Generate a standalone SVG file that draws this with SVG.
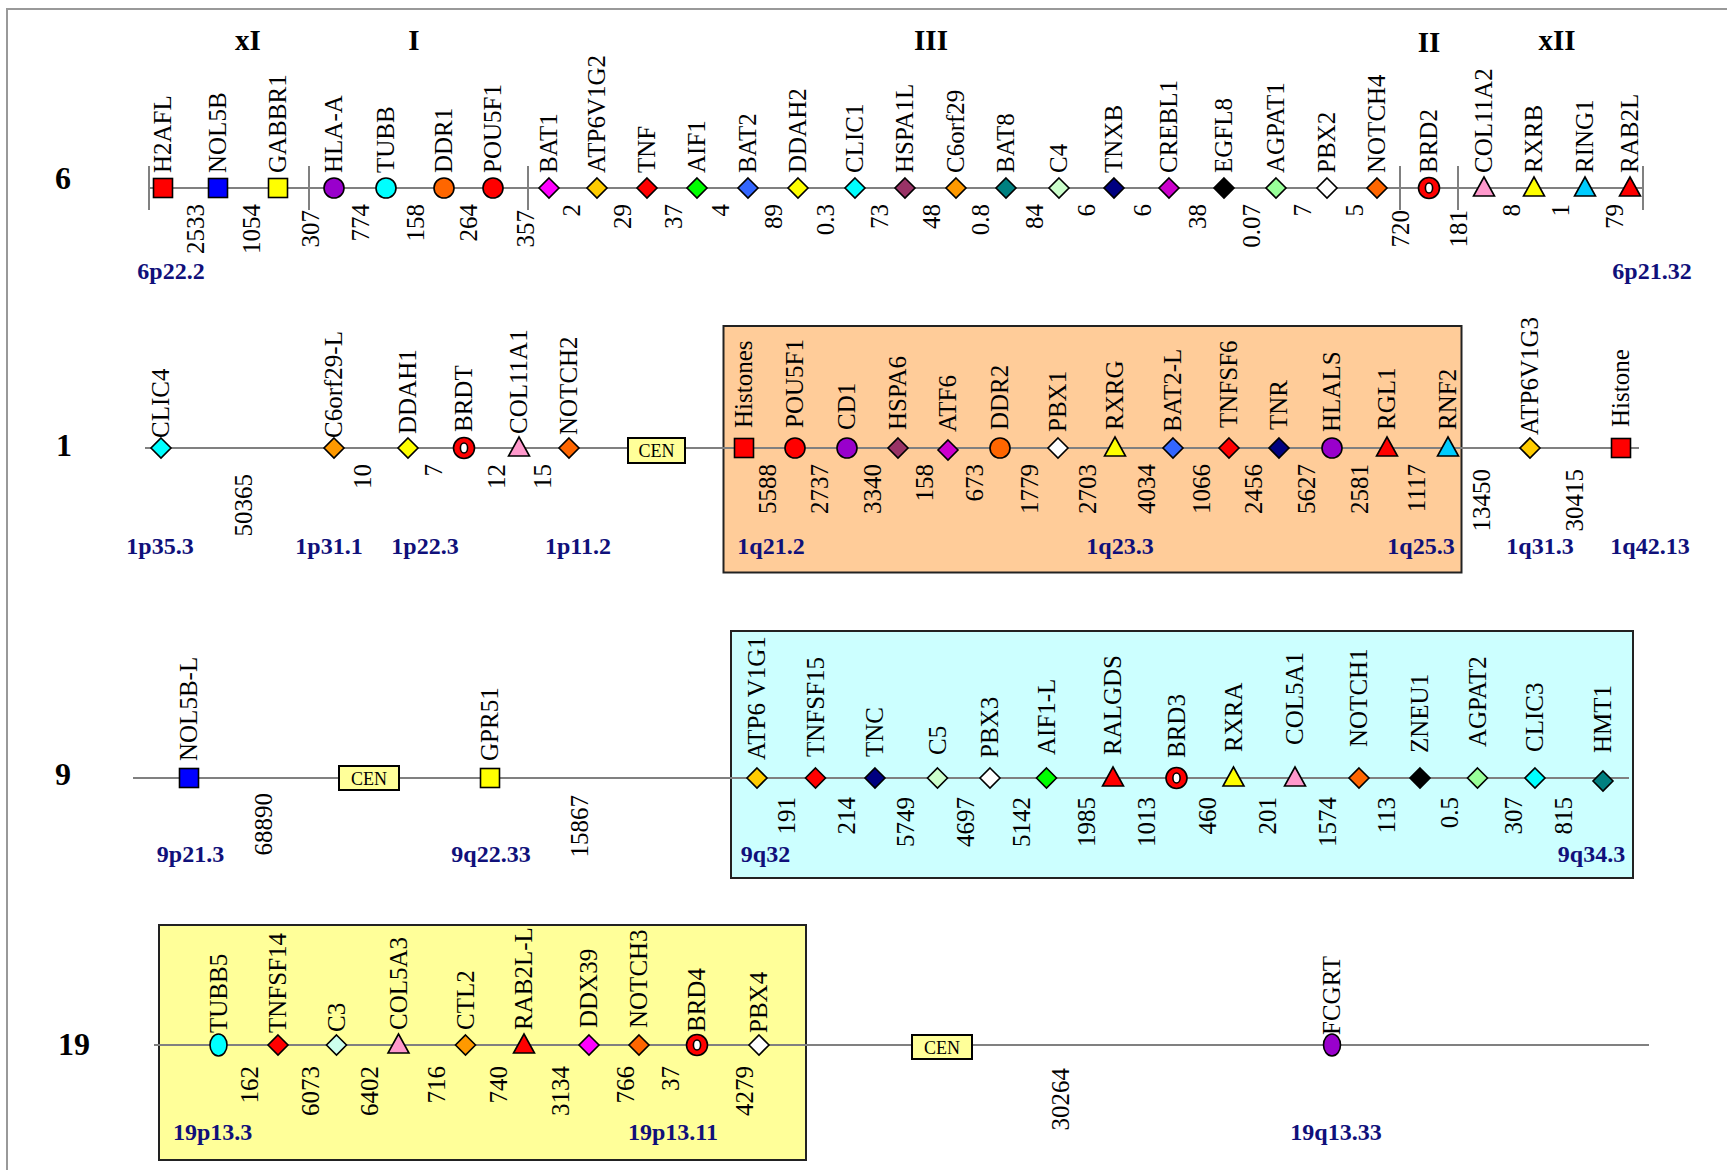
<svg xmlns="http://www.w3.org/2000/svg" width="1727" height="1170" viewBox="0 0 1727 1170">
<style>
text{font-family:"Liberation Serif","Times New Roman",serif;fill:#000}
.lb{font-size:25px}
.nm{font-size:25px;text-anchor:end}
.bd{font-size:24px;font-weight:bold;fill:#10107a;text-anchor:middle}
.ch{font-size:32px;font-weight:bold;text-anchor:middle}
.sc{font-size:29px;font-weight:bold;text-anchor:middle}
.cen{font-size:18px;text-anchor:middle}
.ln{stroke:#808080;stroke-width:2;fill:none}
.s{stroke:#000;stroke-width:1.6}
.bx{stroke:#222;stroke-width:2}
.cb{fill:#ffff99;stroke:#000;stroke-width:2}
</style>
<defs>
<rect id="sq" x="-9.5" y="-9.5" width="19" height="19"/>
<circle id="ci" r="10"/>
<ellipse id="el" rx="8.5" ry="11"/>
<path id="di" d="M0,-10 L10,0 L0,10 L-10,0Z"/>
<path id="tr" d="M0,-11 L10.5,8 L-10.5,8Z"/>
<g id="ring"><circle r="10.5" fill="#ff0000" stroke="#000" stroke-width="1.6"/><ellipse rx="3.6" ry="5" fill="#fff" stroke="#000" stroke-width="1.6"/></g>
</defs>
<rect width="1727" height="1170" fill="#fff"/>
<path d="M7,1170 V9 H1727" stroke="#999" stroke-width="2" fill="none"/>

<g id="regions">
<rect id="box-1q" class="bx" x="723.5" y="326" width="738" height="246.5" fill="#ffcc99"/>
<rect id="box-9q" class="bx" x="731" y="631" width="902" height="247" fill="#ccffff"/>
<rect id="box-19p" class="bx" x="159" y="925" width="647" height="235" fill="#ffff99"/>
</g>

<g id="connectors">
<line class="ln" x1="150" y1="188" x2="1643" y2="188"/>
<path class="ln" d="M149,166V210 M309,166V210 M528,166V210 M1400,166V210 M1458,166V210 M1643,166V210"/>
<line class="ln" x1="145" y1="448" x2="1639" y2="448"/>
<line class="ln" x1="133" y1="778" x2="1629" y2="778"/>
<line class="ln" x1="154" y1="1045" x2="1649" y2="1045"/>
</g>

<g id="headers">
<text class="sc" x="248" y="50">xI</text>
<text class="sc" x="414" y="50">I</text>
<text class="sc" x="931" y="50">III</text>
<text class="sc" x="1429" y="52">II</text>
<text class="sc" x="1557" y="50">xII</text>
<text class="ch" x="63" y="189">6</text>
<text class="ch" x="64" y="456">1</text>
<text class="ch" x="63" y="785">9</text>
<text class="ch" x="74" y="1055">19</text>
</g>

<g id="centromeres">
<g id="cen-1"><rect class="cb" x="628" y="438" width="57" height="25"/><text class="cen" x="656.5" y="457">CEN</text></g>
<g id="cen-9"><rect class="cb" x="339" y="766" width="60" height="24"/><text class="cen" x="369" y="784.5">CEN</text></g>
<g id="cen-19"><rect class="cb" x="912" y="1035" width="60" height="24"/><text class="cen" x="942" y="1053.5">CEN</text></g>
</g>

<g id="chr6" class="s">
<g id="n6-H2AFL"><use href="#sq" x="163" y="188" fill="#ff0000"/><text class="lb" x="171" y="173" transform="rotate(-90 171 173)" stroke="none">H2AFL</text></g>
<g id="n6-NOL5B"><use href="#sq" x="218" y="188" fill="#0000ff"/><text class="lb" x="226" y="173" transform="rotate(-90 226 173)" stroke="none">NOL5B</text></g>
<g id="n6-GABBR1"><use href="#sq" x="278" y="188" fill="#ffff00"/><text class="lb" x="286" y="173" transform="rotate(-90 286 173)" stroke="none">GABBR1</text></g>
<g id="n6-HLA-A"><use href="#ci" x="334" y="188" fill="#9900cc"/><text class="lb" x="342" y="173" transform="rotate(-90 342 173)" stroke="none">HLA-A</text></g>
<g id="n6-TUBB"><use href="#ci" x="386" y="188" fill="#00ffff"/><text class="lb" x="394" y="173" transform="rotate(-90 394 173)" stroke="none">TUBB</text></g>
<g id="n6-DDR1"><use href="#ci" x="444" y="188" fill="#ff6600"/><text class="lb" x="452" y="173" transform="rotate(-90 452 173)" stroke="none">DDR1</text></g>
<g id="n6-POU5F1"><use href="#ci" x="493" y="188" fill="#ff0000"/><text class="lb" x="501" y="173" transform="rotate(-90 501 173)" stroke="none">POU5F1</text></g>
<g id="n6-BAT1"><use href="#di" x="549" y="188" fill="#ff00ff"/><text class="lb" x="557" y="173" transform="rotate(-90 557 173)" stroke="none">BAT1</text></g>
<g id="n6-ATP6V1G2"><use href="#di" x="597" y="188" fill="#ffcc00"/><text class="lb" x="605" y="173" transform="rotate(-90 605 173)" stroke="none">ATP6V1G2</text></g>
<g id="n6-TNF"><use href="#di" x="647" y="188" fill="#ff0000"/><text class="lb" x="655" y="173" transform="rotate(-90 655 173)" stroke="none">TNF</text></g>
<g id="n6-AIF1"><use href="#di" x="697" y="188" fill="#00ff00"/><text class="lb" x="705" y="173" transform="rotate(-90 705 173)" stroke="none">AIF1</text></g>
<g id="n6-BAT2"><use href="#di" x="748" y="188" fill="#3366ff"/><text class="lb" x="756" y="173" transform="rotate(-90 756 173)" stroke="none">BAT2</text></g>
<g id="n6-DDAH2"><use href="#di" x="798" y="188" fill="#ffff00"/><text class="lb" x="806" y="173" transform="rotate(-90 806 173)" stroke="none">DDAH2</text></g>
<g id="n6-CLIC1"><use href="#di" x="855" y="188" fill="#00ffff"/><text class="lb" x="863" y="173" transform="rotate(-90 863 173)" stroke="none">CLIC1</text></g>
<g id="n6-HSPA1L"><use href="#di" x="905" y="188" fill="#993366"/><text class="lb" x="913" y="173" transform="rotate(-90 913 173)" stroke="none">HSPA1L</text></g>
<g id="n6-C6orf29"><use href="#di" x="956" y="188" fill="#ff9900"/><text class="lb" x="964" y="173" transform="rotate(-90 964 173)" stroke="none">C6orf29</text></g>
<g id="n6-BAT8"><use href="#di" x="1006" y="188" fill="#008080"/><text class="lb" x="1014" y="173" transform="rotate(-90 1014 173)" stroke="none">BAT8</text></g>
<g id="n6-C4"><use href="#di" x="1059" y="188" fill="#ccffcc"/><text class="lb" x="1067" y="173" transform="rotate(-90 1067 173)" stroke="none">C4</text></g>
<g id="n6-TNXB"><use href="#di" x="1114" y="188" fill="#000080"/><text class="lb" x="1122" y="173" transform="rotate(-90 1122 173)" stroke="none">TNXB</text></g>
<g id="n6-CREBL1"><use href="#di" x="1169" y="188" fill="#cc00cc"/><text class="lb" x="1177" y="173" transform="rotate(-90 1177 173)" stroke="none">CREBL1</text></g>
<g id="n6-EGFL8"><use href="#di" x="1224" y="188" fill="#000000"/><text class="lb" x="1232" y="173" transform="rotate(-90 1232 173)" stroke="none">EGFL8</text></g>
<g id="n6-AGPAT1"><use href="#di" x="1276" y="188" fill="#99ff99"/><text class="lb" x="1284" y="173" transform="rotate(-90 1284 173)" stroke="none">AGPAT1</text></g>
<g id="n6-PBX2"><use href="#di" x="1327" y="188" fill="#ffffff"/><text class="lb" x="1335" y="173" transform="rotate(-90 1335 173)" stroke="none">PBX2</text></g>
<g id="n6-NOTCH4"><use href="#di" x="1377" y="188" fill="#ff6600"/><text class="lb" x="1385" y="173" transform="rotate(-90 1385 173)" stroke="none">NOTCH4</text></g>
<g id="n6-BRD2"><use href="#ring" x="1429" y="188"/><text class="lb" x="1437" y="173" transform="rotate(-90 1437 173)" stroke="none">BRD2</text></g>
<g id="n6-COL11A2"><use href="#tr" x="1484" y="188" fill="#ff99cc"/><text class="lb" x="1492" y="173" transform="rotate(-90 1492 173)" stroke="none">COL11A2</text></g>
<g id="n6-RXRB"><use href="#tr" x="1534" y="188" fill="#ffff00"/><text class="lb" x="1542" y="173" transform="rotate(-90 1542 173)" stroke="none">RXRB</text></g>
<g id="n6-RING1"><use href="#tr" x="1585" y="188" fill="#00ccff"/><text class="lb" x="1593" y="173" transform="rotate(-90 1593 173)" stroke="none">RING1</text></g>
<g id="n6-RAB2L"><use href="#tr" x="1630" y="188" fill="#ff0000"/><text class="lb" x="1638" y="173" transform="rotate(-90 1638 173)" stroke="none">RAB2L</text></g>
</g>

<g id="chr6-distances">
<text class="nm" x="204" y="204" transform="rotate(-90 204 204)">2533</text>
<text class="nm" x="260" y="204" transform="rotate(-90 260 204)">1054</text>
<text class="nm" x="319" y="210" transform="rotate(-90 319 210)">307</text>
<text class="nm" x="369" y="204" transform="rotate(-90 369 204)">774</text>
<text class="nm" x="424" y="204" transform="rotate(-90 424 204)">158</text>
<text class="nm" x="477" y="204" transform="rotate(-90 477 204)">264</text>
<text class="nm" x="534" y="210" transform="rotate(-90 534 210)">357</text>
<text class="nm" x="580" y="204" transform="rotate(-90 580 204)">2</text>
<text class="nm" x="631" y="204" transform="rotate(-90 631 204)">29</text>
<text class="nm" x="682" y="204" transform="rotate(-90 682 204)">37</text>
<text class="nm" x="729" y="204" transform="rotate(-90 729 204)">4</text>
<text class="nm" x="782" y="204" transform="rotate(-90 782 204)">89</text>
<text class="nm" x="834" y="204" transform="rotate(-90 834 204)">0.3</text>
<text class="nm" x="888" y="204" transform="rotate(-90 888 204)">73</text>
<text class="nm" x="940" y="204" transform="rotate(-90 940 204)">48</text>
<text class="nm" x="989" y="204" transform="rotate(-90 989 204)">0.8</text>
<text class="nm" x="1043" y="204" transform="rotate(-90 1043 204)">84</text>
<text class="nm" x="1095" y="204" transform="rotate(-90 1095 204)">6</text>
<text class="nm" x="1151" y="204" transform="rotate(-90 1151 204)">6</text>
<text class="nm" x="1206" y="204" transform="rotate(-90 1206 204)">38</text>
<text class="nm" x="1260" y="204" transform="rotate(-90 1260 204)">0.07</text>
<text class="nm" x="1311" y="204" transform="rotate(-90 1311 204)">7</text>
<text class="nm" x="1363" y="204" transform="rotate(-90 1363 204)">5</text>
<text class="nm" x="1409" y="210" transform="rotate(-90 1409 210)">720</text>
<text class="nm" x="1467" y="210" transform="rotate(-90 1467 210)">181</text>
<text class="nm" x="1520" y="204" transform="rotate(-90 1520 204)">8</text>
<text class="nm" x="1569" y="204" transform="rotate(-90 1569 204)">1</text>
<text class="nm" x="1623" y="204" transform="rotate(-90 1623 204)">79</text>
<text class="bd" x="171" y="279">6p22.2</text>
<text class="bd" x="1652" y="279">6p21.32</text>
</g>

<g id="chr1" class="s">
<g id="n1-CLIC4"><use href="#di" x="161" y="448" fill="#00ffff"/><text class="lb" x="169" y="438" transform="rotate(-90 169 438)" stroke="none">CLIC4</text></g>
<g id="n1-C6orf29-L"><use href="#di" x="334" y="448" fill="#ff9900"/><text class="lb" x="342" y="438" transform="rotate(-90 342 438)" stroke="none">C6orf29-L</text></g>
<g id="n1-DDAH1"><use href="#di" x="408" y="448" fill="#ffff00"/><text class="lb" x="416" y="434" transform="rotate(-90 416 434)" stroke="none">DDAH1</text></g>
<g id="n1-BRDT"><use href="#ring" x="464" y="448"/><text class="lb" x="472" y="432" transform="rotate(-90 472 432)" stroke="none">BRDT</text></g>
<g id="n1-COL11A1"><use href="#tr" x="519" y="448" fill="#ff99cc"/><text class="lb" x="527" y="434" transform="rotate(-90 527 434)" stroke="none">COL11A1</text></g>
<g id="n1-NOTCH2"><use href="#di" x="569" y="448" fill="#ff6600"/><text class="lb" x="577" y="435" transform="rotate(-90 577 435)" stroke="none">NOTCH2</text></g>
<g id="n1-Histones"><use href="#sq" x="744" y="448" fill="#ff0000"/><text class="lb" x="752" y="428" transform="rotate(-90 752 428)" stroke="none">Histones</text></g>
<g id="n1-POU5F1"><use href="#ci" x="795" y="448" fill="#ff0000"/><text class="lb" x="803" y="428" transform="rotate(-90 803 428)" stroke="none">POU5F1</text></g>
<g id="n1-CD1"><use href="#ci" x="847" y="448" fill="#9900cc"/><text class="lb" x="855" y="430" transform="rotate(-90 855 430)" stroke="none">CD1</text></g>
<g id="n1-HSPA6"><use href="#di" x="898" y="448" fill="#993366"/><text class="lb" x="906" y="430" transform="rotate(-90 906 430)" stroke="none">HSPA6</text></g>
<g id="n1-ATF6"><use href="#di" x="948" y="450" fill="#cc00cc"/><text class="lb" x="956" y="432" transform="rotate(-90 956 432)" stroke="none">ATF6</text></g>
<g id="n1-DDR2"><use href="#ci" x="1000" y="448" fill="#ff6600"/><text class="lb" x="1008" y="430" transform="rotate(-90 1008 430)" stroke="none">DDR2</text></g>
<g id="n1-PBX1"><use href="#di" x="1058" y="448" fill="#ffffff"/><text class="lb" x="1066" y="432" transform="rotate(-90 1066 432)" stroke="none">PBX1</text></g>
<g id="n1-RXRG"><use href="#tr" x="1115" y="448" fill="#ffff00"/><text class="lb" x="1123" y="430" transform="rotate(-90 1123 430)" stroke="none">RXRG</text></g>
<g id="n1-BAT2-L"><use href="#di" x="1173" y="448" fill="#3366ff"/><text class="lb" x="1181" y="432" transform="rotate(-90 1181 432)" stroke="none">BAT2-L</text></g>
<g id="n1-TNFSF6"><use href="#di" x="1229" y="448" fill="#ff0000"/><text class="lb" x="1237" y="428" transform="rotate(-90 1237 428)" stroke="none">TNFSF6</text></g>
<g id="n1-TNR"><use href="#di" x="1279" y="448" fill="#000080"/><text class="lb" x="1287" y="430" transform="rotate(-90 1287 430)" stroke="none">TNR</text></g>
<g id="n1-HLALS"><use href="#ci" x="1332" y="448" fill="#9900cc"/><text class="lb" x="1340" y="432" transform="rotate(-90 1340 432)" stroke="none">HLALS</text></g>
<g id="n1-RGL1"><use href="#tr" x="1387" y="448" fill="#ff0000"/><text class="lb" x="1395" y="430" transform="rotate(-90 1395 430)" stroke="none">RGL1</text></g>
<g id="n1-RNF2"><use href="#tr" x="1448" y="448" fill="#00ccff"/><text class="lb" x="1456" y="430" transform="rotate(-90 1456 430)" stroke="none">RNF2</text></g>
<g id="n1-ATP6V1G3"><use href="#di" x="1530" y="448" fill="#ffcc00"/><text class="lb" x="1538" y="435" transform="rotate(-90 1538 435)" stroke="none">ATP6V1G3</text></g>
<g id="n1-Histone"><use href="#sq" x="1621" y="448" fill="#ff0000"/><text class="lb" x="1629" y="427" transform="rotate(-90 1629 427)" stroke="none">Histone</text></g>
</g>

<g id="chr1-distances">
<text class="nm" x="252" y="474" transform="rotate(-90 252 474)">50365</text>
<text class="nm" x="371" y="464" transform="rotate(-90 371 464)">10</text>
<text class="nm" x="442" y="464" transform="rotate(-90 442 464)">7</text>
<text class="nm" x="505" y="464" transform="rotate(-90 505 464)">12</text>
<text class="nm" x="551" y="464" transform="rotate(-90 551 464)">15</text>
<text class="nm" x="776" y="464" transform="rotate(-90 776 464)">5588</text>
<text class="nm" x="828" y="464" transform="rotate(-90 828 464)">2737</text>
<text class="nm" x="881" y="464" transform="rotate(-90 881 464)">3340</text>
<text class="nm" x="933" y="464" transform="rotate(-90 933 464)">158</text>
<text class="nm" x="983" y="464" transform="rotate(-90 983 464)">673</text>
<text class="nm" x="1038" y="464" transform="rotate(-90 1038 464)">1779</text>
<text class="nm" x="1096" y="464" transform="rotate(-90 1096 464)">2703</text>
<text class="nm" x="1155" y="464" transform="rotate(-90 1155 464)">4034</text>
<text class="nm" x="1210" y="464" transform="rotate(-90 1210 464)">1066</text>
<text class="nm" x="1262" y="464" transform="rotate(-90 1262 464)">2456</text>
<text class="nm" x="1315" y="464" transform="rotate(-90 1315 464)">5627</text>
<text class="nm" x="1368" y="464" transform="rotate(-90 1368 464)">2581</text>
<text class="nm" x="1425" y="464" transform="rotate(-90 1425 464)">1117</text>
<text class="nm" x="1490" y="469" transform="rotate(-90 1490 469)">13450</text>
<text class="nm" x="1583" y="469" transform="rotate(-90 1583 469)">30415</text>
<text class="bd" x="160" y="554">1p35.3</text>
<text class="bd" x="329" y="554">1p31.1</text>
<text class="bd" x="425" y="554">1p22.3</text>
<text class="bd" x="578" y="554">1p11.2</text>
<text class="bd" x="771" y="554">1q21.2</text>
<text class="bd" x="1120" y="554">1q23.3</text>
<text class="bd" x="1421" y="554">1q25.3</text>
<text class="bd" x="1540" y="554">1q31.3</text>
<text class="bd" x="1650" y="554">1q42.13</text>
</g>

<g id="chr9" class="s">
<g id="n9-NOL5B-L"><use href="#sq" x="189" y="778" fill="#0000ff"/><text class="lb" x="197" y="761" transform="rotate(-90 197 761)" stroke="none">NOL5B-L</text></g>
<g id="n9-GPR51"><use href="#sq" x="490" y="778" fill="#ffff00"/><text class="lb" x="498" y="761" transform="rotate(-90 498 761)" stroke="none">GPR51</text></g>
<g id="n9-ATP6V1G1"><use href="#di" x="757" y="778" fill="#ffcc00"/><text class="lb" x="765" y="760" transform="rotate(-90 765 760)" stroke="none">ATP6 V1G1</text></g>
<g id="n9-TNFSF15"><use href="#di" x="815.5" y="778" fill="#ff0000"/><text class="lb" x="823.5" y="757" transform="rotate(-90 823.5 757)" stroke="none">TNFSF15</text></g>
<g id="n9-TNC"><use href="#di" x="875" y="778" fill="#000080"/><text class="lb" x="883" y="757" transform="rotate(-90 883 757)" stroke="none">TNC</text></g>
<g id="n9-C5"><use href="#di" x="937.5" y="778" fill="#ccffcc"/><text class="lb" x="945.5" y="755" transform="rotate(-90 945.5 755)" stroke="none">C5</text></g>
<g id="n9-PBX3"><use href="#di" x="990" y="778" fill="#ffffff"/><text class="lb" x="998" y="758" transform="rotate(-90 998 758)" stroke="none">PBX3</text></g>
<g id="n9-AIF1-L"><use href="#di" x="1046.5" y="778" fill="#00ff00"/><text class="lb" x="1054.5" y="755" transform="rotate(-90 1054.5 755)" stroke="none">AIF1-L</text></g>
<g id="n9-RALGDS"><use href="#tr" x="1113" y="778" fill="#ff0000"/><text class="lb" x="1121" y="755" transform="rotate(-90 1121 755)" stroke="none">RALGDS</text></g>
<g id="n9-BRD3"><use href="#ring" x="1176.5" y="778"/><text class="lb" x="1184.5" y="758" transform="rotate(-90 1184.5 758)" stroke="none">BRD3</text></g>
<g id="n9-RXRA"><use href="#tr" x="1233.5" y="778" fill="#ffff00"/><text class="lb" x="1241.5" y="752" transform="rotate(-90 1241.5 752)" stroke="none">RXRA</text></g>
<g id="n9-COL5A1"><use href="#tr" x="1295" y="778" fill="#ff99cc"/><text class="lb" x="1303" y="745" transform="rotate(-90 1303 745)" stroke="none">COL5A1</text></g>
<g id="n9-NOTCH1"><use href="#di" x="1359" y="778" fill="#ff6600"/><text class="lb" x="1367" y="747" transform="rotate(-90 1367 747)" stroke="none">NOTCH1</text></g>
<g id="n9-ZNEU1"><use href="#di" x="1420" y="778" fill="#000000"/><text class="lb" x="1428" y="753" transform="rotate(-90 1428 753)" stroke="none">ZNEU1</text></g>
<g id="n9-AGPAT2"><use href="#di" x="1477.5" y="778" fill="#99ff99"/><text class="lb" x="1485.5" y="747" transform="rotate(-90 1485.5 747)" stroke="none">AGPAT2</text></g>
<g id="n9-CLIC3"><use href="#di" x="1535" y="778" fill="#00ffff"/><text class="lb" x="1543" y="752" transform="rotate(-90 1543 752)" stroke="none">CLIC3</text></g>
<g id="n9-HMT1"><use href="#di" x="1603" y="781" fill="#008080"/><text class="lb" x="1611" y="753" transform="rotate(-90 1611 753)" stroke="none">HMT1</text></g>
</g>

<g id="chr9-distances">
<text class="nm" x="272" y="793" transform="rotate(-90 272 793)">68890</text>
<text class="nm" x="588" y="795" transform="rotate(-90 588 795)">15867</text>
<text class="nm" x="794.5" y="797" transform="rotate(-90 794.5 797)">191</text>
<text class="nm" x="854.5" y="797" transform="rotate(-90 854.5 797)">214</text>
<text class="nm" x="914" y="797" transform="rotate(-90 914 797)">5749</text>
<text class="nm" x="974" y="797" transform="rotate(-90 974 797)">4697</text>
<text class="nm" x="1030" y="797" transform="rotate(-90 1030 797)">5142</text>
<text class="nm" x="1095" y="797" transform="rotate(-90 1095 797)">1985</text>
<text class="nm" x="1155" y="797" transform="rotate(-90 1155 797)">1013</text>
<text class="nm" x="1215.5" y="797" transform="rotate(-90 1215.5 797)">460</text>
<text class="nm" x="1276" y="797" transform="rotate(-90 1276 797)">201</text>
<text class="nm" x="1336" y="797" transform="rotate(-90 1336 797)">1574</text>
<text class="nm" x="1395" y="797" transform="rotate(-90 1395 797)">113</text>
<text class="nm" x="1458" y="797" transform="rotate(-90 1458 797)">0.5</text>
<text class="nm" x="1522" y="797" transform="rotate(-90 1522 797)">307</text>
<text class="nm" x="1572" y="797" transform="rotate(-90 1572 797)">815</text>
<text class="bd" x="190.5" y="862">9p21.3</text>
<text class="bd" x="491" y="862">9q22.33</text>
<text class="bd" x="765.5" y="862">9q32</text>
<text class="bd" x="1591.5" y="862">9q34.3</text>
</g>

<g id="chr19" class="s">
<g id="n19-TUBB5"><use href="#el" x="218.5" y="1045" fill="#00ffff"/><text class="lb" x="226.5" y="1033" transform="rotate(-90 226.5 1033)" stroke="none">TUBB5</text></g>
<g id="n19-TNFSF14"><use href="#di" x="278" y="1045" fill="#ff0000"/><text class="lb" x="286" y="1033" transform="rotate(-90 286 1033)" stroke="none">TNFSF14</text></g>
<g id="n19-C3"><use href="#di" x="336.5" y="1045" fill="#ccffee"/><text class="lb" x="344.5" y="1032" transform="rotate(-90 344.5 1032)" stroke="none">C3</text></g>
<g id="n19-COL5A3"><use href="#tr" x="398.5" y="1045" fill="#ff99cc"/><text class="lb" x="406.5" y="1030" transform="rotate(-90 406.5 1030)" stroke="none">COL5A3</text></g>
<g id="n19-CTL2"><use href="#di" x="465.5" y="1045" fill="#ff9900"/><text class="lb" x="473.5" y="1030" transform="rotate(-90 473.5 1030)" stroke="none">CTL2</text></g>
<g id="n19-RAB2L-L"><use href="#tr" x="524" y="1045" fill="#ff0000"/><text class="lb" x="532" y="1030" transform="rotate(-90 532 1030)" stroke="none">RAB2L-L</text></g>
<g id="n19-DDX39"><use href="#di" x="589" y="1045" fill="#ff00ff"/><text class="lb" x="597" y="1028" transform="rotate(-90 597 1028)" stroke="none">DDX39</text></g>
<g id="n19-NOTCH3"><use href="#di" x="639" y="1045" fill="#ff6600"/><text class="lb" x="647" y="1028" transform="rotate(-90 647 1028)" stroke="none">NOTCH3</text></g>
<g id="n19-BRD4"><use href="#ring" x="697" y="1045"/><text class="lb" x="705" y="1032" transform="rotate(-90 705 1032)" stroke="none">BRD4</text></g>
<g id="n19-PBX4"><use href="#di" x="759" y="1045" fill="#ffffff"/><text class="lb" x="767" y="1033" transform="rotate(-90 767 1033)" stroke="none">PBX4</text></g>
<g id="n19-FCGRT"><use href="#el" x="1332" y="1045" fill="#9900cc"/><text class="lb" x="1340" y="1035" transform="rotate(-90 1340 1035)" stroke="none">FCGRT</text></g>
</g>

<g id="chr19-distances">
<text class="nm" x="258" y="1066" transform="rotate(-90 258 1066)">162</text>
<text class="nm" x="318.5" y="1066" transform="rotate(-90 318.5 1066)">6073</text>
<text class="nm" x="378" y="1066" transform="rotate(-90 378 1066)">6402</text>
<text class="nm" x="445" y="1066" transform="rotate(-90 445 1066)">716</text>
<text class="nm" x="507" y="1066" transform="rotate(-90 507 1066)">740</text>
<text class="nm" x="568.5" y="1066" transform="rotate(-90 568.5 1066)">3134</text>
<text class="nm" x="633.5" y="1066" transform="rotate(-90 633.5 1066)">766</text>
<text class="nm" x="679" y="1066" transform="rotate(-90 679 1066)">37</text>
<text class="nm" x="752.5" y="1066" transform="rotate(-90 752.5 1066)">4279</text>
<text class="nm" x="1068.5" y="1068" transform="rotate(-90 1068.5 1068)">30264</text>
<text class="bd" x="212.6" y="1140">19p13.3</text>
<text class="bd" x="673" y="1140">19p13.11</text>
<text class="bd" x="1336" y="1140">19q13.33</text>
</g>
</svg>
